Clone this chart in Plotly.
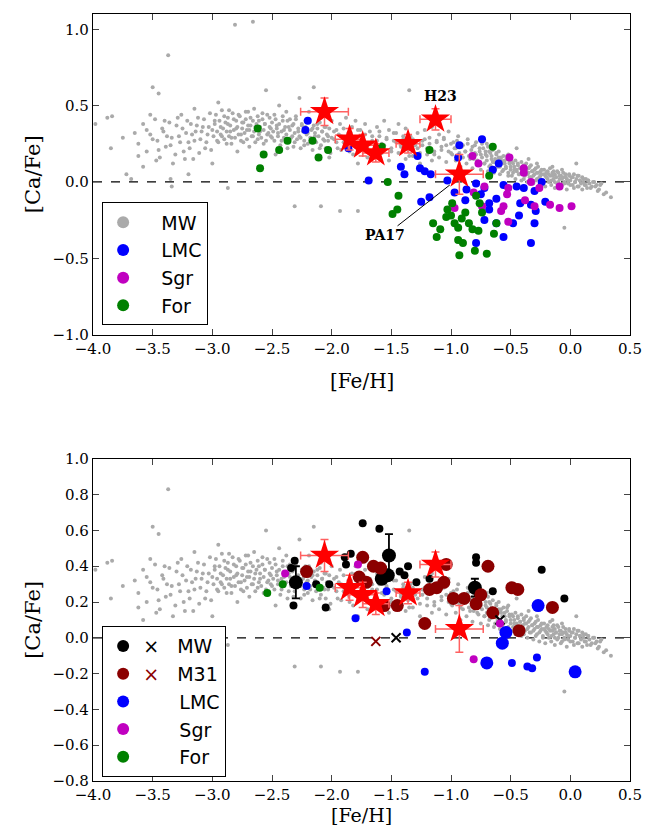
import plotly.graph_objects as go

# Milky Way field stars (grey), same in both panels
mw_feh = [-3.98,-3.88,-3.84,-3.85,-3.75,-3.72,-3.68,-3.65,-3.62,-3.58,-3.55,-3.52,-3.5,-3.5,-3.47,-3.45,-3.45,-3.42,-3.4,-3.38,
          -3.37,-3.35,-3.35,-3.33,-3.3,-3.28,-3.26,-3.24,-3.22,-3.2,-3.2,-3.18,-3.16,-3.15,-3.14,-3.12,-3.1,-3.08,-3.06,-3.04,
          -3.02,-3.0,-3.0,-2.98,-2.96,-2.95,-2.93,-2.92,-2.9,-2.88,-2.87,-2.86,-2.85,-2.84,-2.82,-2.81,-2.8,-2.79,-2.78,-2.76,
          -2.75,-2.74,-2.72,-2.71,-2.7,-2.69,-2.68,-2.66,-2.66,-2.65,-2.64,-2.62,-2.61,-2.6,-2.58,-2.57,-2.56,-2.55,-2.54,-2.52,
          -2.51,-2.5,-2.48,-2.47,-2.46,-2.45,-2.44,-2.42,-2.41,-2.4,-2.38,-2.37,-2.36,-2.35,-2.33,-2.32,-2.31,-2.3,-2.28,-2.27,
          -2.26,-2.25,-2.23,-2.22,-2.2,-2.19,-2.18,-2.16,-2.15,-2.14,-2.12,-2.1,-2.09,-2.08,-2.06,-2.05,-2.03,-2.02,-2.0,-1.98,
          -1.96,-1.95,-1.93,-1.92,-1.9,-1.88,-1.86,-1.85,-1.83,-1.82,-1.8,-1.78,-1.78,-1.76,-1.74,-1.72,-1.7,-1.68,-1.66,-1.64,
          -1.62,-1.6,-1.58,-1.56,-1.54,-1.52,-1.5,-1.48,-1.46,-1.44,-1.42,-1.4,-1.38,-1.35,-1.35,-1.32,-1.3,-1.28,-1.26,-1.24,
          -1.22,-1.2,-1.18,-1.16,-1.14,-1.12,-1.1,-1.08,-1.06,-1.04,-1.02,-1.0,-0.98,-0.96,-0.94,-0.92,-0.9,-0.88,-0.86,-0.84,
          -0.82,-0.8,-0.79,-0.78,-0.76,-0.75,-0.74,-0.72,-0.71,-0.7,-0.69,-0.68,-0.67,-0.66,-0.65,-0.64,-0.63,-0.62,-0.61,-0.6,
          -0.59,-0.58,-0.57,-0.56,-0.55,-0.54,-0.53,-0.52,-0.51,-0.5,-0.49,-0.48,-0.47,-0.46,-0.45,-0.44,-0.43,-0.42,-0.41,-0.4,
          -0.39,-0.39,-0.38,-0.37,-0.36,-0.35,-0.34,-0.33,-0.32,-0.31,-0.3,-0.29,-0.28,-0.27,-0.26,-0.25,-0.24,-0.23,-0.22,-0.21,
          -0.2,-0.19,-0.18,-0.17,-0.16,-0.15,-0.14,-0.13,-0.13,-0.12,-0.11,-0.1,-0.09,-0.08,-0.07,-0.07,-0.06,-0.05,-0.04,-0.03,
          -0.02,-0.01,0.0,0.01,0.02,0.03,0.04,0.05,0.06,0.07,0.08,0.09,0.1,0.11,0.12,0.13,0.14,0.15,0.16,0.18,
          0.2,0.22,0.24,0.26,0.28,-2.31,-2.09,-1.93,-1.78,-3.34,-2.87,-0.6,-0.35,-0.52,-0.45,-0.7,-0.28,-0.15,-0.05,0.05]
mw_cafe = [0.38,0.42,0.43,0.22,0.29,0.05,0.02,0.32,0.17,0.10,0.34,0.44,0.28,0.62,0.14,0.21,0.58,0.35,0.40,0.30,
           0.83,0.24,0.02,0.12,0.37,0.30,0.44,0.20,0.32,0.26,0.05,0.38,0.15,0.48,0.33,0.42,0.28,0.36,0.22,0.31,
           0.45,0.34,0.12,0.40,0.27,0.52,0.36,0.30,0.43,0.25,0.38,0.47,0.33,0.29,0.41,1.03,0.35,0.20,0.44,0.31,
           0.39,0.26,0.46,0.34,0.37,0.23,0.42,1.05,0.30,0.48,0.36,0.28,0.40,0.33,0.45,0.25,0.38,0.60,0.31,0.42,
           0.35,0.29,0.44,0.18,0.37,0.32,0.50,0.27,0.40,0.34,0.46,0.22,0.36,0.41,0.30,0.38,0.26,0.43,0.33,0.55,
           0.29,0.37,0.24,0.40,0.32,0.46,0.27,0.35,0.62,0.30,0.38,0.22,0.42,0.33,0.27,0.36,0.30,0.16,0.40,0.28,
           0.34,0.22,0.38,0.30,0.26,0.42,0.32,0.20,0.36,0.28,0.40,0.24,0.12,0.34,0.30,0.38,0.22,0.33,0.27,0.18,
           0.36,0.30,0.25,0.40,0.28,0.34,0.20,0.32,0.26,0.38,0.23,0.30,0.35,0.17,0.60,0.28,0.24,0.32,0.19,0.27,
           0.34,0.22,0.29,0.36,0.18,0.26,0.31,0.21,0.28,0.24,0.33,0.19,0.26,0.22,0.30,0.17,0.24,0.20,0.28,0.15,
           0.23,0.19,0.26,0.14,0.22,0.18,0.25,0.12,0.20,0.17,0.23,0.10,0.19,0.15,0.21,0.13,0.08,0.18,0.11,0.16,
           0.10,0.14,0.07,0.17,0.12,0.09,0.15,0.06,0.13,0.10,0.04,0.12,0.08,0.14,0.07,0.11,0.05,0.09,0.13,0.06,
           0.10,0.02,0.08,0.12,0.05,0.09,0.03,0.11,0.07,0.04,0.08,0.01,0.06,0.10,0.03,0.07,0.05,0.00,0.08,0.04,
           0.06,0.02,0.05,0.09,0.01,0.04,0.07,0.00,0.05,0.03,-0.01,0.06,0.02,0.04,-0.02,0.08,0.03,0.00,0.05,0.02,
           -0.01,0.04,0.01,0.03,-0.02,0.05,0.00,0.02,-0.03,0.04,0.01,-0.01,0.03,0.00,-0.02,0.02,-0.04,0.01,-0.01,-0.03,
           0.00,-0.02,-0.05,-0.01,-0.08,-0.16,-0.16,-0.19,-0.19,-0.03,-0.04,0.20,0.15,0.18,0.22,0.25,0.12,0.10,-0.30,0.12]
# second batch of field stars, read region by region
mw2_feh = [-3.62,-3.58,-3.55,-3.52,-3.48,-3.46,-3.44,-3.41,-3.39,-3.36,-3.34,-3.31,-3.29,-3.27,-3.25,-3.23,-3.21,-3.19,-3.17,-3.15,
           -3.13,-3.11,-3.09,-3.07,-3.05,-3.03,-3.01,
           -2.99,-2.98,-2.97,-2.96,-2.95,-2.94,-2.93,-2.92,-2.91,-2.9,-2.89,-2.88,-2.87,-2.86,-2.85,-2.84,-2.83,-2.82,-2.81,-2.8,
           -2.79,-2.78,-2.77,-2.76,-2.75,-2.74,-2.73,-2.72,-2.71,-2.7,-2.69,-2.68,-2.67,-2.66,-2.65,-2.64,-2.63,-2.62,-2.61,-2.6,
           -2.59,-2.58,-2.57,-2.56,-2.55,-2.54,-2.53,-2.52,-2.51,-2.5,
           -2.49,-2.48,-2.47,-2.46,-2.45,-2.44,-2.43,-2.42,-2.41,-2.4,-2.39,-2.38,-2.37,-2.36,-2.35,-2.34,-2.33,-2.32,-2.31,-2.3,
           -2.29,-2.28,-2.27,-2.26,-2.25,-2.24,-2.23,-2.22,-2.21,-2.2,-2.19,-2.18,-2.17,-2.16,-2.15,-2.14,-2.13,-2.12,-2.11,-2.1,
           -2.09,-2.08,-2.07,-2.06,-2.05,-2.04,-2.03,-2.02,-2.01,-2.0,
           -1.98,-1.96,-1.94,-1.92,-1.9,-1.88,-1.86,-1.84,-1.82,-1.8,-1.78,-1.76,-1.74,-1.72,-1.7,-1.68,-1.66,-1.64,-1.62,-1.6,
           -1.58,-1.56,-1.54,-1.52,-1.5,-1.48,-1.46,-1.44,-1.42,-1.4,-1.38,-1.36,-1.34,-1.32,-1.3,-1.28,-1.26,-1.24,-1.22,-1.2,
           -1.18,-1.16,-1.14,-1.12,-1.1,-1.08,-1.06,-1.04,-1.02,-1.0,
           -0.99,-0.97,-0.96,-0.95,-0.93,-0.92,-0.91,-0.9,-0.88,-0.87,-0.86,-0.85,-0.83,-0.82,-0.81,-0.8,-0.79,-0.77,-0.76,-0.75,
           -0.74,-0.73,-0.72,-0.71,-0.7,-0.69,-0.68,-0.67,-0.66,-0.65,-0.64,-0.63,-0.62,-0.61,-0.6,-0.59,-0.58,-0.57,-0.56,-0.55,
           -0.54,-0.53,-0.52,-0.51,-0.5,
           -0.49,-0.48,-0.47,-0.46,-0.45,-0.44,-0.43,-0.42,-0.41,-0.4,-0.39,-0.38,-0.37,-0.36,-0.35,-0.34,-0.33,-0.32,-0.31,-0.3,
           -0.29,-0.28,-0.27,-0.26,-0.25,-0.24,-0.23,-0.22,-0.21,-0.2,-0.19,-0.18,-0.17,-0.16,-0.15,-0.14,-0.13,-0.12,-0.11,-0.1,
           -0.09,-0.08,-0.07,-0.06,-0.05,-0.04,-0.03,-0.02,-0.01,0.0,0.02,0.03,0.04,0.06,0.07,0.08,0.1,0.11,0.13,0.15,
           0.17,0.19,0.21,0.23,0.25,0.3,0.34]
mw2_cafe = [0.25,0.38,0.20,0.31,0.41,0.27,0.16,0.33,0.23,0.39,0.29,0.18,0.42,0.26,0.35,0.15,0.40,0.22,0.31,0.27,
            0.37,0.19,0.33,0.41,0.26,0.36,0.21,
            0.30,0.38,0.44,0.33,0.26,0.40,0.31,0.47,0.35,0.28,0.39,0.33,0.42,0.30,0.37,0.25,0.45,0.34,0.29,0.40,
            0.36,0.31,0.43,0.27,0.35,0.39,0.32,0.41,0.28,0.46,0.34,0.37,0.30,0.40,0.33,0.26,0.38,0.43,0.31,0.36,
            0.29,0.41,0.34,0.38,0.27,0.44,0.32,0.36,0.30,0.39,
            0.33,0.27,0.41,0.35,0.30,0.38,0.24,0.33,0.43,0.29,0.36,0.31,0.40,0.26,0.34,0.29,0.37,0.23,0.32,0.41,
            0.28,0.35,0.30,0.22,0.38,0.33,0.27,0.36,0.31,0.25,0.40,0.29,0.34,0.21,0.37,0.32,0.26,0.35,0.30,0.39,
            0.24,0.33,0.28,0.36,0.22,0.31,0.27,0.35,0.19,0.29,
            0.33,0.26,0.31,0.21,0.35,0.28,0.24,0.32,0.18,0.29,0.34,0.22,0.27,0.31,0.16,0.25,0.30,0.21,0.27,0.33,
            0.19,0.24,0.29,0.14,0.22,0.27,0.32,0.19,0.24,0.28,0.15,0.21,0.30,0.17,0.26,0.22,0.12,0.24,0.28,0.18,
            0.25,0.14,0.20,0.27,0.16,0.23,0.29,0.13,0.20,0.25,
            0.18,0.22,0.14,0.27,0.19,0.10,0.23,0.16,0.20,0.12,0.25,0.17,0.21,0.09,0.15,0.24,0.18,0.13,0.20,0.08,
            0.16,0.22,0.12,0.18,0.14,0.07,0.20,0.11,0.17,0.13,0.06,0.15,0.19,0.10,0.14,0.05,0.16,0.12,0.08,0.14,
            0.10,0.17,0.04,0.12,0.08,
            0.13,0.06,0.10,0.02,0.08,0.12,0.05,0.09,0.01,0.07,0.11,0.04,0.08,0.00,0.06,0.10,0.03,0.07,-0.01,0.05,
            0.09,0.02,0.06,-0.02,0.04,0.08,0.01,0.05,-0.03,0.03,0.07,0.00,0.04,-0.02,0.06,0.02,-0.04,0.03,0.07,0.00,
            0.04,-0.03,0.02,0.06,-0.01,0.03,-0.05,0.01,0.05,-0.02,0.03,-0.04,0.00,0.04,-0.03,0.01,-0.05,0.02,-0.02,0.01,
            -0.04,0.00,-0.03,-0.06,-0.02,-0.07,-0.10]

# target clusters (red stars), same in both panels
star_feh = [-2.06, -1.85, -1.74, -1.63, -1.36, -1.13, -0.93]
star_cafe = [0.46, 0.28, 0.24, 0.19, 0.25, 0.41, 0.05]
star_xerr = [0.2, 0.12, 0.12, 0.11, 0.1, 0.13, 0.2]
star_yerr = [0.09, 0.07, 0.07, 0.06, 0.06, 0.07, 0.13]

# top panel: dwarf galaxy stars
lmc1_feh = [-2.20,-2.22,-1.86,-1.69,-1.42,-1.39,-1.28,-1.26,-1.22,-1.17,-1.25,-1.18,-0.93,-0.74,-0.94,-1.03,-0.97,-0.88,-0.87,-0.79,
            -0.75,-0.72,-0.68,-0.72,-0.65,-0.60,-0.62,-0.56,-0.62,-0.56,-0.79,-0.48,-0.45,-0.42,-0.39,-0.33,-0.30,-0.30,-0.29,-0.24,
            -0.21,-0.33,-0.43,-0.68]
lmc1_cafe = [0.40,0.34,0.22,0.01,0.10,0.05,0.17,0.09,0.07,0.05,-0.13,-0.10,0.24,0.28,0.16,0.01,-0.07,-0.12,-0.05,-0.01,
             -0.08,-0.04,-0.18,-0.25,0.08,0.12,-0.11,-0.02,-0.27,-0.36,-0.40,-0.27,-0.03,-0.14,-0.04,-0.15,-0.06,-0.27,-0.19,0.00,
             -0.13,-0.40,-0.22,-0.14]
sgr1_feh = [-0.82,-0.77,-0.51,-0.39,-0.39,-0.72,-0.81,-0.52,-0.53,-0.33,-0.26,-0.38,-0.56,-0.58,-0.52,-0.30,-0.17,-0.09,0.01,-0.09,-0.97,-0.74]
sgr1_cafe = [0.17,0.12,0.16,0.09,0.06,-0.03,-0.07,-0.04,-0.08,0.00,-0.04,-0.12,-0.16,-0.19,-0.26,-0.16,-0.15,-0.17,-0.16,-0.03,-0.17,-0.16]
for1_feh = [-2.62,-2.60,-2.57,-2.44,-2.37,-2.16,-2.11,-2.03,-1.58,-1.18,-1.53,-1.44,-1.45,-1.49,-1.15,-1.12,-1.09,-1.03,-1.00,-0.97,
            -0.94,-0.91,-0.88,-0.85,-0.82,-0.94,-0.90,-0.93,-0.80,-0.70,-0.77,-0.76,-0.74,-0.68,-0.65,-0.62,-0.64,-0.79,-0.99,-1.04]
for1_cafe = [0.35,0.09,0.18,0.21,0.27,0.27,0.16,0.21,0.23,0.21,0.00,-0.09,-0.18,-0.21,-0.27,-0.36,-0.31,-0.18,-0.22,-0.27,
             -0.30,-0.24,-0.20,-0.27,-0.31,-0.38,-0.40,-0.48,-0.45,-0.47,-0.32,-0.14,-0.20,0.04,0.23,-0.27,-0.34,-0.09,-0.14,-0.23]

# bottom panel: globular clusters
mwgc_feh = [-1.74,-1.60,-2.31,-2.34,-2.32,-2.05,-2.02,-2.13,-1.89,-1.84,-1.88,-1.36,-1.29,-1.18,-0.79,-0.79,-0.65,-0.24,-0.05,-1.39,-1.43]
mwgc_cafe = [0.64,0.61,0.43,0.39,0.18,0.17,0.30,0.30,0.45,0.47,0.41,0.40,0.31,0.33,0.45,0.42,0.26,0.38,0.22,0.35,0.37]
mwbig_feh = [-2.30, -1.52, -1.58, -1.53, -0.80]
mwbig_cafe = [0.31, 0.46, 0.33, 0.35, 0.28]
mwbig_err = [0.09, 0.12, 0.0, 0.0, 0.05]
mwx_feh = [-1.46, -0.59]
mwx_cafe = [0.00, 0.10]
m31x_feh = [-1.63]
m31x_cafe = [-0.02]
m31_feh = [-2.21,-1.74,-1.65,-1.59,-1.77,-1.71,-1.56,-1.45,-1.04,-1.06,-1.18,-1.12,-0.98,-0.89,-0.79,-0.75,-0.69,-0.65,-0.49,-0.44,-0.15,-0.43,-1.22]
m31_cafe = [0.37,0.45,0.40,0.39,0.34,0.31,0.18,0.18,0.41,0.31,0.27,0.28,0.22,0.22,0.19,0.24,0.40,0.14,0.28,0.27,0.17,0.04,0.08]
lmc2_feh = [-2.21,-1.80,-1.54,-1.37,-1.22,-0.49,-0.36,-0.32,-0.28]
lmc2_cafe = [0.29,0.11,0.26,0.03,-0.19,-0.14,-0.16,-0.17,-0.11]
lmc2big_feh = [-0.70,-0.54,-0.57,-0.27,0.04]
lmc2big_cafe = [-0.14,0.03,-0.03,0.18,-0.19]
sgr2_feh = [-2.39, -1.78, -0.81, -0.59]
sgr2_cafe = [0.36, 0.41, -0.12, 0.08]
for2_feh = [-2.54, -2.41, -2.10]
for2_cafe = [0.25, 0.30, 0.28]

fig = go.Figure()

def sc(x, y, color, size, name, row, legend=True, symbol='circle', lg=None, err=None):
    ax = '' if row == 1 else '2'
    fig.add_trace(go.Scatter(x=x, y=y, mode='markers', name=name,
                             marker=dict(color=color, size=size, symbol=symbol,
                                         line=dict(width=0 if symbol == 'circle' else 2, color=color)),
                             error_y=err, showlegend=legend, legend=lg,
                             xaxis='x' + ax, yaxis='y' + ax))

mwcol = '#aaaaaa'
for r in (1, 2):
    ax = '' if r == 1 else '2'
    lg = 'legend' if r == 1 else 'legend2'
    fig.add_trace(go.Scatter(x=[-4, 0.5], y=[0, 0], mode='lines', showlegend=False,
                             line=dict(color='black', dash='dash', width=1.2), xaxis='x' + ax, yaxis='y' + ax))
    sc(mw_feh, mw_cafe, mwcol, 4, '   MW', r, legend=(r == 1), lg=lg)
    sc(mw2_feh, mw2_cafe, mwcol, 4, 'MW2', r, legend=False)
    if r == 1:
        sc(lmc1_feh, lmc1_cafe, 'blue', 8, '   LMC', 1, lg=lg)
        sc(sgr1_feh, sgr1_cafe, '#c000c0', 8, '   Sgr', 1, lg=lg)
        sc(for1_feh, for1_cafe, 'green', 8, '   For', 1, lg=lg)
    else:
        sc(mwgc_feh, mwgc_cafe, 'black', 8, '<span style="color:black">×</span>   MW', 2, lg=lg)
        sc(mwbig_feh, mwbig_cafe, 'black', 14, 'mwbig', 2, legend=False,
           err=dict(type='data', array=mwbig_err, color='black', thickness=1.8, width=4))
        sc(m31_feh, m31_cafe, '#8b0000', 13, '<span style="color:#8b0000">×</span>   M31', 2, lg=lg)
        sc(mwx_feh, mwx_cafe, 'black', 9, 'mwx', 2, legend=False, symbol='x-thin')
        sc(m31x_feh, m31x_cafe, '#8b0000', 9, 'm31x', 2, legend=False, symbol='x-thin')
        sc(lmc2_feh, lmc2_cafe, 'blue', 8, '      LMC', 2, lg=lg)
        sc(lmc2big_feh, lmc2big_cafe, 'blue', 13, 'lmcbig', 2, legend=False)
        sc(sgr2_feh, sgr2_cafe, '#c000c0', 8, '      Sgr', 2, lg=lg)
        sc(for2_feh, for2_cafe, 'green', 8, '      For', 2, lg=lg)
    fig.add_trace(go.Scatter(x=star_feh, y=star_cafe, mode='markers', showlegend=False,
                             marker=dict(symbol='star', color='red', size=22, line=dict(width=0)),
                             error_x=dict(type='data', array=star_xerr, color='#ff6060', thickness=1.5, width=4),
                             error_y=dict(type='data', array=star_yerr, color='#ff6060', thickness=1.5, width=4),
                             xaxis='x' + ax, yaxis='y' + ax))

serif = 'DejaVu Serif'
axis_common = dict(range=[-4, 0.5], dtick=0.5, tickformat='.1f', ticks='inside', ticklen=6, mirror='ticks',
                   showline=True, linecolor='black', linewidth=1.2, showgrid=False, zeroline=False, automargin=False,
                   tickfont=dict(size=15, family=serif, color='black'))
yaxis_common = dict(tickformat='.1f', ticks='inside', ticklen=6, mirror='ticks', automargin=False,
                    showline=True, linecolor='black', linewidth=1.2, showgrid=False, zeroline=False,
                    tickfont=dict(size=15, family=serif),
                    title=dict(text='[Ca/Fe]', font=dict(size=21, family=serif), standoff=6))
fig.update_layout(
    width=635, height=819, plot_bgcolor='white', paper_bgcolor='white',
    font=dict(family='DejaVu Sans', color='black'),
    margin=dict(l=85, r=13, t=6, b=46),
    xaxis=dict(axis_common, anchor='y'),
    xaxis2=dict(axis_common, anchor='y2'),
    yaxis=dict(yaxis_common, range=[-1.0, 1.1], dtick=0.5, domain=[0.582, 1.0], anchor='x'),
    yaxis2=dict(yaxis_common, range=[-0.8, 1.0], dtick=0.2, domain=[0.0, 0.42], anchor='x2'),
    legend=dict(x=0.017, y=0.594, xanchor='left', yanchor='bottom', bordercolor='black', borderwidth=1,
                bgcolor='white', font=dict(size=19), itemsizing='constant', itemwidth=30, tracegroupgap=2),
    legend2=dict(x=0.017, y=0.005, xanchor='left', yanchor='bottom', bordercolor='black', borderwidth=1,
                 bgcolor='white', font=dict(size=19), itemsizing='constant', itemwidth=30),
    annotations=[
        dict(x=0.5, y=0.582, xref='paper', yref='paper', yshift=-46, text='[Fe/H]', showarrow=False,
             yanchor='middle', font=dict(size=20, family=serif, color='black')),
        dict(x=0.5, y=0.0, xref='paper', yref='paper', yshift=-34, text='[Fe/H]', showarrow=False,
             yanchor='middle', font=dict(size=19, family=serif, color='black')),
        dict(x=-1.09, y=0.56, xref='x', yref='y', text='<b>H23</b>', showarrow=False,
             font=dict(family=serif, size=14)),
        dict(x=-1.01, y=-0.02, xref='x', yref='y', ax=-1.55, ay=-0.35, axref='x', ayref='y',
             text='<b>PA17</b>', showarrow=True, arrowhead=0, arrowwidth=1, arrowcolor='black',
             font=dict(family=serif, size=14)),
    ],
)
fig.write_html("out.html")
